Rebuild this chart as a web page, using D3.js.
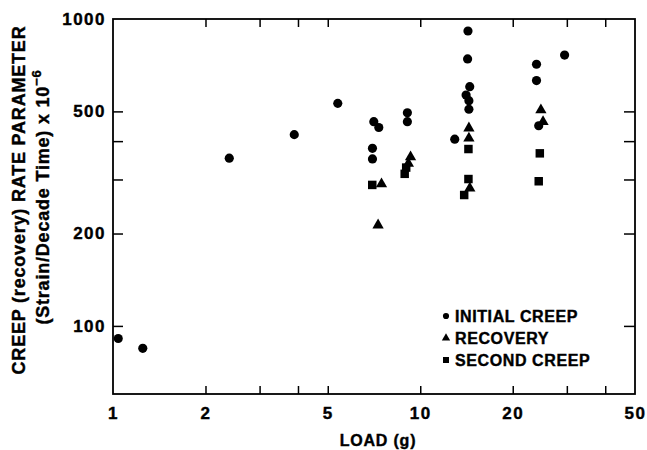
<!DOCTYPE html>
<html>
<head>
<meta charset="utf-8">
<script src="https://cdn.jsdelivr.net/npm/d3@7"></script>
<style>
  body { margin: 0; background: #fff; }
  text { font-family: "Liberation Sans", Arial, Helvetica, sans-serif; font-weight: bold; fill: #000; stroke: #000; stroke-width: 0.4px; }
</style>
</head>
<body>
<script>
// data: [load (g), rate x 1e-6]
var initialCreep = [
    [1.04, 91], [1.25, 84.5], [2.39, 352], [3.89, 420], [5.39, 531],
    [7.06, 463], [7.33, 443], [6.99, 379], [6.99, 350],
    [9.08, 495], [9.08, 463],
    [14.3, 914], [14.26, 741], [14.49, 602], [14.1, 565], [14.4, 542], [14.4, 508], [12.95, 406],
    [23.9, 712], [23.9, 630], [24.3, 449], [29.5, 763]
];
var recovery = [
    [7.48, 290], [7.29, 213], [9.3, 355], [9.15, 338],
    [14.4, 441], [14.4, 409], [14.5, 281],
    [24.7, 505], [25.1, 463]
];
var secondCreep = [
    [6.98, 288], [8.9, 313], [9.0, 328],
    [14.35, 377], [14.35, 301], [13.9, 267],
    [24.5, 365], [24.3, 296]
];

var xTicks = [2, 3, 4, 5, 10, 20, 30, 40];
var xLabels = [1, 2, 5, 10, 20, 50];
var yTicks = [100, 200, 300, 400, 500];
var yLabels = [100, 200, 500, 1000];
var legendNames = ["INITIAL CREEP", "RECOVERY", "SECOND CREEP"];

//margins
var W = 647, H = 450;
var margin = {top: 19, right: 12, bottom: 56, left: 113};
var width = W - margin.left - margin.right,
    height = H - margin.top - margin.bottom;

var svg = d3.select("body").append("svg")
    .attr("width", W)
    .attr("height", H);

var g = svg.append("g")
    .attr("transform", "translate(" + margin.left + "," + margin.top + ")");

var x = d3.scaleLog().domain([1, 50]).range([0, width]);
var y = d3.scaleLog().domain([60, 1000]).range([height, 0]);

// ticks on all four sides, pointing inward
function tickAxis(axis, tv, len) {
    return axis.tickValues(tv).tickSize(len).tickFormat("");
}
g.append("g").attr("transform", "translate(0," + height + ")")
    .call(tickAxis(d3.axisBottom(x), xTicks, -8));
g.append("g")
    .call(tickAxis(d3.axisTop(x), xTicks, -8));
g.append("g")
    .call(tickAxis(d3.axisLeft(y), yTicks, -10));
g.append("g").attr("transform", "translate(" + width + ",0)")
    .call(tickAxis(d3.axisRight(y), yTicks, -11));

g.selectAll(".domain").remove();
g.selectAll(".tick line").attr("stroke", "#000").attr("stroke-width", 1.5);

// labels
var xl = g.append("g").attr("transform", "translate(0," + height + ")")
    .call(d3.axisBottom(x).tickValues(xLabels).tickSize(0).tickPadding(13).tickFormat(d3.format("d")));
var yl = g.append("g")
    .call(d3.axisLeft(y).tickValues(yLabels).tickSize(0).tickPadding(7).tickFormat(d3.format("d")));
xl.select(".domain").remove();
yl.select(".domain").remove();
svg.selectAll(".tick text")
    .style("font-size", "17px")
    .style("font-family", "'Liberation Sans', Arial, sans-serif")
    .style("font-weight", "bold")
    .style("letter-spacing", "1.5px");

// frame
g.append("rect")
    .attr("width", width)
    .attr("height", height)
    .attr("fill", "none")
    .attr("stroke", "#000")
    .attr("stroke-width", 1.8);

// points
var circle = d3.symbol().type(d3.symbolCircle).size(66);
var tri = d3.symbol().type(d3.symbolTriangle).size(55);
var sq = d3.symbol().type(d3.symbolSquare).size(72);

function plot(data, sym) {
    g.selectAll(null)
        .data(data)
        .enter().append("path")
        .attr("d", sym)
        .attr("transform", function(d) { return "translate(" + x(d[0]) + "," + y(d[1]) + ")"; })
        .attr("fill", "#000");
}
plot(initialCreep, circle);
plot(recovery, tri);
plot(secondCreep, sq);

// legend
var legSyms = [d3.symbol().type(d3.symbolCircle).size(30),
               d3.symbol().type(d3.symbolTriangle).size(30),
               d3.symbol().type(d3.symbolSquare).size(36)];
var leg = svg.append("g").attr("transform", "translate(446,316)");
legendNames.forEach(function(name, i) {
    leg.append("path")
        .attr("d", legSyms[i])
        .attr("transform", "translate(0," + (i * 22) + ")")
        .attr("fill", "#000");
    leg.append("text")
        .attr("x", 9)
        .attr("y", i * 22 + 6)
        .style("font-size", "16px")
        .style("letter-spacing", "0.6px")
        .text(name);
});

// axis titles
svg.append("text")
    .attr("x", 378)
    .attr("y", 446)
    .attr("text-anchor", "middle")
    .style("font-size", "16px")
    .style("letter-spacing", "0.8px")
    .text("LOAD (g)");

svg.append("text")
    .attr("transform", "translate(25,200) rotate(-90)")
    .attr("text-anchor", "middle")
    .style("font-size", "18px")
    .style("letter-spacing", "0.8px")
    .text("CREEP (recovery) RATE PARAMETER");

var t2 = svg.append("text")
    .attr("transform", "translate(49,197) rotate(-90)")
    .attr("text-anchor", "middle")
    .style("font-size", "18px")
    .style("letter-spacing", "0.8px");
t2.append("tspan").text("(Strain/Decade Time) x 10");
t2.append("tspan").attr("dy", -8).style("font-size", "13px").text("\u22126");
</script>
</body>
</html>
